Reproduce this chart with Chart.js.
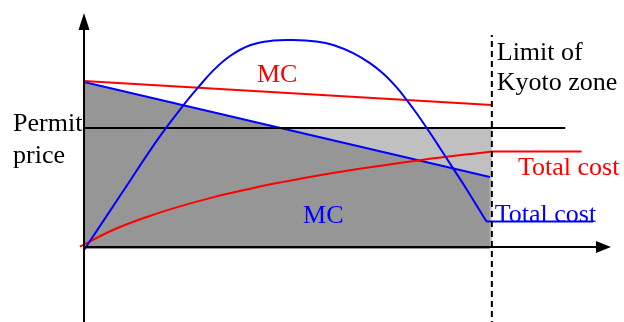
<!DOCTYPE html>
<html>
<head>
<meta charset="utf-8">
<script src="https://cdn.jsdelivr.net/npm/chart.js@4.4.0/dist/chart.umd.min.js"></script>
<style>
  html, body { margin: 0; padding: 0; background: #fff; }
  #wrap { width: 624px; height: 322px; }
</style>
</head>
<body>
<div id="wrap"><canvas id="chart"></canvas></div>
<script>
// x: abatement (10 = limit of Kyoto zone), y: price / cost
const kyotoLimit = 10;
const permitPrice = 5.95;

const redMcX = [0, 10];
const redMcY = [8.3, 7.1];

const blueMcX = [0, 9.95];
const blueMcY = [8.25, 3.5];

const redCostX = [-0.1, 0.71, 1.54, 2.35, 3.16, 4.0, 4.8, 5.5, 6.8, 8.24, 10];
const redCostY = [0.02, 0.85, 1.5, 2.03, 2.48, 2.88, 3.22, 3.49, 3.92, 4.34, 4.78];
const redTailX = [10, 12.2];
const redTailY = [4.78, 4.78];

const blueCostX = [0, 0.9, 1.82, 2.43, 2.8, 3.17, 3.58, 4.07, 4.64, 5.13, 5.7, 6.11, 6.6, 7.01, 7.34, 7.66, 7.91, 8.15, 8.4, 8.73, 9.05, 9.38, 9.87];
const blueCostY = [-0.15, 2.61, 5.42, 7.07, 7.98, 8.83, 9.55, 10.09, 10.32, 10.35, 10.27, 10.1, 9.69, 9.19, 8.66, 7.99, 7.36, 6.7, 5.96, 4.94, 3.93, 2.89, 1.27];
const blueTailX = [9.87, 12.48];
const blueTailY = [1.27, 1.27];

const labelTexts = ["MC", "Permit", "price", "Limit of", "Kyoto zone", "Total cost", "Total cost", "MC"];

const red = "#ff0000";
const blue = "#0000ff";

function pts(xs, ys) {
  return xs.map((x, i) => ({ x: x, y: ys[i] }));
}

function lineSet(data, color, order, extra) {
  return Object.assign({
    data: data,
    borderColor: color,
    borderWidth: 2,
    pointRadius: 0,
    fill: false,
    clip: false,
    order: order,
  }, extra || {});
}

// arrow heads and the text notes
const overlayPlugin = {
  id: "overlay",
  afterDatasetsDraw(chart, args, opts) {
    const ctx = chart.ctx;
    const xs = chart.scales.x;
    const ys = chart.scales.y;
    ctx.save();
    ctx.fillStyle = "#000";

    // y axis arrow
    let tx = xs.getPixelForValue(0);
    let ty = ys.getPixelForValue(11.7);
    ctx.beginPath();
    ctx.moveTo(tx, ty);
    ctx.lineTo(tx - 5.5, ty + 17);
    ctx.lineTo(tx + 5.5, ty + 17);
    ctx.closePath();
    ctx.fill();

    // x axis arrow
    tx = xs.getPixelForValue(12.92);
    ty = ys.getPixelForValue(0);
    ctx.beginPath();
    ctx.moveTo(tx, ty);
    ctx.lineTo(tx - 15, ty - 6);
    ctx.lineTo(tx - 15, ty + 6);
    ctx.closePath();
    ctx.fill();

    ctx.font = '26px "Liberation Serif"';
    ctx.textBaseline = "alphabetic";
    opts.notes.forEach((n, i) => {
      ctx.fillStyle = n.color;
      ctx.fillText(labelTexts[i], xs.getPixelForValue(n.x), ys.getPixelForValue(n.y));
    });
    ctx.restore();
  }
};

const chart = new Chart(document.getElementById("chart"), {
  type: "line",
  data: {
    datasets: [
      // light grey area under the permit price
      lineSet(pts([0, kyotoLimit], [permitPrice, permitPrice]), "rgba(0,0,0,0)", 10,
        { borderWidth: 0, fill: { value: 0 }, backgroundColor: "rgb(192,192,192)" }),
      // blue MC with dark grey area below
      lineSet(pts(blueMcX, blueMcY), blue, 9,
        { fill: { value: -0.1 }, backgroundColor: "rgb(150,150,150)" }),
      lineSet(pts([0, 11.8], [permitPrice, permitPrice]), "#000", 8),
      lineSet(pts(redMcX, redMcY), red, 7),
      lineSet(pts(redCostX, redCostY), red, 6, { tension: 0.4 }),
      lineSet(pts(redTailX, redTailY), red, 6),
      lineSet(pts(blueCostX, blueCostY), blue, 5, { tension: 0.4 }),
      lineSet(pts(blueTailX, blueTailY), blue, 5),
      // axes
      lineSet(pts([0, 0], [-4, 10.9]), "#000", 4),
      lineSet(pts([0, 12.6], [0, 0]), "#000", 4),
      // limit of Kyoto zone
      lineSet(pts([kyotoLimit, kyotoLimit], [-4, 10.6]), "#000", 3, { borderDash: [6, 4] }),
    ],
  },
  options: {
    responsive: true,
    maintainAspectRatio: false,
    animation: false,
    layout: { padding: 0, autoPadding: false },
    scales: {
      x: { type: "linear", min: -2.06, max: 13.24, display: false },
      y: { type: "linear", min: -3.75, max: 12.35, display: false },
    },
    plugins: {
      legend: { display: false },
      tooltip: { enabled: false },
      overlay: {
        notes: [
          { x: 4.24, y: 8.25, color: red },
          { x: -1.74, y: 5.8, color: "#000" },
          { x: -1.74, y: 4.2, color: "#000" },
          { x: 10.12, y: 9.35, color: "#000" },
          { x: 10.12, y: 7.83, color: "#000" },
          { x: 10.64, y: 3.6, color: red },
          { x: 10.07, y: 1.25, color: blue },
          { x: 5.37, y: 1.2, color: blue },
        ],
      },
    },
  },
  plugins: [overlayPlugin],
});
</script>
</body>
</html>
